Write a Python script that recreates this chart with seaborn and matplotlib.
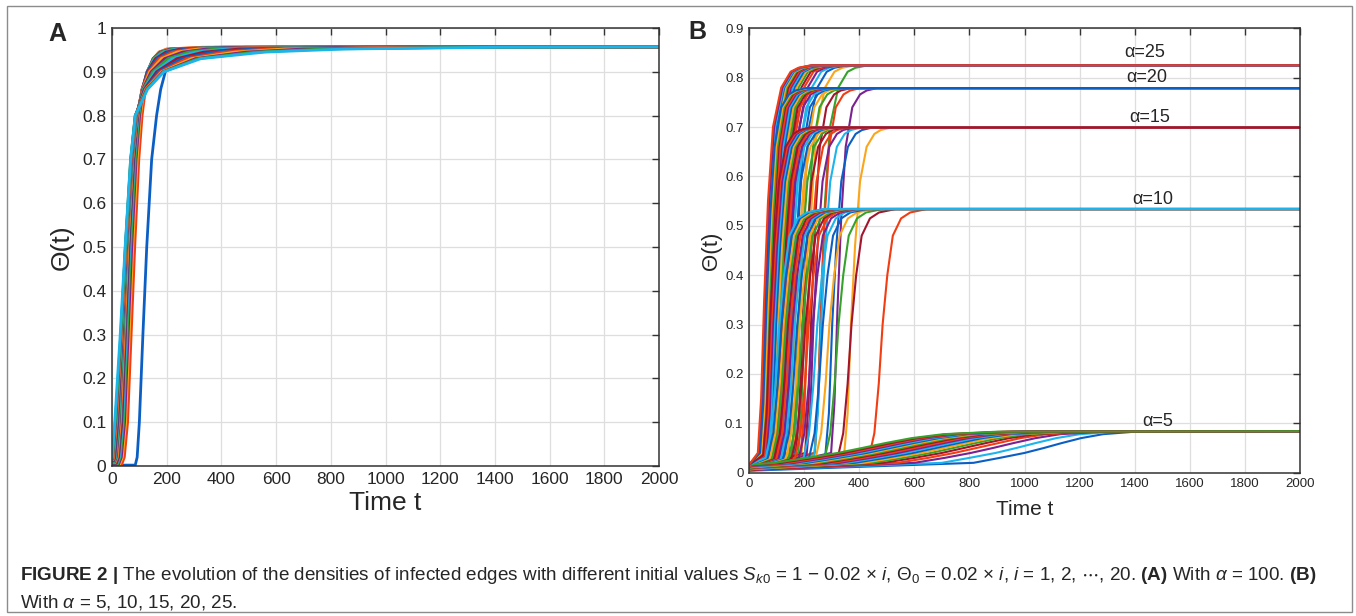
import numpy as np
import pandas as pd
import matplotlib
matplotlib.use("Agg")
import matplotlib.pyplot as plt
from matplotlib import font_manager
from matplotlib.patches import Rectangle
import seaborn as sns

# ---------------- data ----------------
# a curve = (0, start) -> (hold, start) -> (time at each level) -> (2000, plateau)

# panel A, alpha = 100, i = 1..20
levels_a = [0.02, 0.1, 0.3, 0.5, 0.7, 0.8, 0.86, 0.9, 0.93, 0.945, 0.952, 0.956]
plateau_a = 0.957
start_a = [0.002, 0.003, 0.004, 0.004, 0.005, 0.006, 0.006, 0.007, 0.008, 0.008,
           0.009, 0.010, 0.011, 0.012, 0.013, 0.014, 0.015, 0.016, 0.017, 0.018]
hold_a = [85, 35, 28, 24, 21, 18, 16, 14, 12, 10, 9, 8, 7, 6, 5, 4, 3, 2, 1, 0]
times_a = [
    [92, 100, 113, 127, 145, 163, 178, 195, 215, 240, 275, 400],
    [45, 57, 70, 83, 98, 110, 122, 135, 152, 172, 200, 330],
    [38, 50, 63, 76, 92, 104, 117, 131, 150, 172, 205, 350],
    [34, 46, 59, 72, 88, 101, 114, 129, 150, 175, 212, 380],
    [30, 42, 55, 68, 85, 98, 112, 128, 152, 180, 222, 410],
    [27, 39, 52, 65, 82, 96, 111, 128, 155, 188, 235, 450],
    [24, 36, 49, 62, 80, 94, 110, 129, 159, 197, 250, 490],
    [22, 33, 47, 60, 78, 93, 110, 131, 165, 208, 268, 540],
    [20, 31, 45, 58, 76, 92, 110, 134, 172, 222, 290, 590],
    [18, 29, 43, 57, 75, 91, 111, 138, 181, 238, 315, 650],
    [16, 27, 41, 55, 74, 90, 112, 143, 192, 258, 345, 710],
    [14, 25, 40, 54, 73, 89, 114, 149, 205, 280, 380, 780],
    [12, 23, 38, 53, 72, 88, 116, 156, 220, 305, 420, 850],
    [10, 21, 37, 52, 71, 87, 118, 163, 237, 335, 465, 930],
    [8, 19, 36, 51, 70, 87, 120, 170, 255, 370, 515, 1010],
    [6, 17, 35, 50, 70, 86, 122, 177, 273, 410, 570, 1090],
    [4, 15, 34, 50, 69, 86, 124, 182, 290, 450, 630, 1170],
    [3, 14, 33, 49, 69, 85, 126, 186, 305, 490, 700, 1250],
    [2, 12, 32, 49, 68, 85, 128, 188, 315, 525, 775, 1330],
    [1, 10, 30, 48, 68, 85, 130, 190, 325, 560, 850, 1400],
]

# panel B, alpha = 5, 10, 15, 20, 25, i = 1..20
alphas_b = [5, 10, 15, 20, 25]
plateaus_b = [0.084, 0.534, 0.699, 0.779, 0.825]
start_b = [0.004, 0.005, 0.005, 0.006, 0.006, 0.007, 0.007, 0.008, 0.008, 0.009,
           0.009, 0.010, 0.010, 0.011, 0.012, 0.012, 0.013, 0.014, 0.015, 0.016]

levels_b5 = [0.02, 0.03, 0.04, 0.05, 0.06, 0.07, 0.078, 0.083]
times_b5 = [
    [815, 910, 1000, 1070, 1135, 1205, 1285, 1400],
    [700, 800, 895, 970, 1040, 1115, 1200, 1330],
    [600, 710, 805, 885, 960, 1040, 1130, 1280],
    [540, 650, 745, 825, 905, 985, 1080, 1240],
    [490, 600, 700, 780, 860, 945, 1040, 1210],
    [450, 560, 660, 742, 822, 908, 1005, 1180],
    [415, 525, 625, 708, 790, 876, 975, 1155],
    [385, 495, 595, 678, 760, 847, 948, 1130],
    [355, 465, 565, 650, 733, 820, 922, 1110],
    [330, 440, 540, 625, 708, 795, 898, 1090],
    [305, 415, 515, 600, 684, 772, 876, 1070],
    [280, 390, 490, 576, 660, 750, 855, 1050],
    [255, 367, 468, 554, 638, 728, 834, 1030],
    [232, 345, 447, 532, 617, 708, 815, 1010],
    [210, 323, 427, 512, 597, 688, 796, 990],
    [188, 302, 405, 491, 576, 668, 777, 970],
    [165, 280, 385, 471, 556, 648, 758, 955],
    [142, 258, 365, 451, 536, 628, 740, 940],
    [118, 235, 345, 431, 516, 609, 722, 920],
    [95, 212, 322, 410, 495, 590, 705, 900],
]

levels_b10 = [0.03, 0.08, 0.18, 0.30, 0.40, 0.48, 0.515, 0.527, 0.534]
times_b10 = [
    [435, 455, 471, 485, 502, 522, 552, 585, 645],
    [322, 342, 358, 372, 389, 409, 439, 472, 532],
    [275, 295, 311, 325, 342, 362, 392, 425, 485],
    [242, 262, 278, 292, 309, 329, 359, 392, 452],
    [218, 238, 254, 268, 285, 305, 335, 368, 428],
    [198, 218, 234, 248, 265, 285, 315, 348, 408],
    [181, 201, 217, 231, 248, 268, 298, 331, 391],
    [167, 187, 203, 217, 234, 254, 284, 317, 377],
    [155, 175, 191, 205, 222, 242, 272, 305, 365],
    [144, 164, 180, 194, 211, 231, 261, 294, 354],
    [134, 154, 170, 184, 201, 221, 251, 284, 344],
    [125, 145, 161, 175, 192, 212, 242, 275, 335],
    [116, 136, 152, 166, 183, 203, 233, 266, 326],
    [108, 128, 144, 158, 175, 195, 225, 258, 318],
    [100, 120, 136, 150, 167, 187, 217, 250, 310],
    [92, 112, 128, 142, 159, 179, 209, 242, 302],
    [84, 104, 120, 134, 151, 171, 201, 234, 294],
    [76, 96, 112, 126, 143, 163, 193, 226, 286],
    [68, 88, 104, 118, 135, 155, 185, 218, 278],
    [60, 80, 96, 110, 127, 147, 177, 210, 270],
]

levels_b15 = [0.035, 0.12, 0.30, 0.46, 0.59, 0.66, 0.686, 0.694, 0.699]
times_b15 = [
    [345, 358, 370, 385, 403, 427, 455, 478, 515],
    [277, 290, 302, 317, 335, 359, 387, 410, 447],
    [237, 250, 262, 277, 295, 319, 347, 370, 407],
    [209, 222, 234, 249, 267, 291, 319, 342, 379],
    [187, 200, 212, 227, 245, 269, 297, 320, 357],
    [169, 182, 194, 209, 227, 251, 279, 302, 339],
    [154, 167, 179, 194, 212, 236, 264, 287, 324],
    [141, 154, 166, 181, 199, 223, 251, 274, 311],
    [130, 143, 155, 170, 188, 212, 240, 263, 300],
    [119, 132, 144, 159, 177, 201, 229, 252, 289],
    [110, 123, 135, 150, 168, 192, 220, 243, 280],
    [102, 115, 127, 142, 160, 184, 212, 235, 272],
    [94, 107, 119, 134, 152, 176, 204, 227, 264],
    [86, 99, 111, 126, 144, 168, 196, 219, 256],
    [80, 93, 105, 120, 138, 162, 190, 213, 250],
    [73, 86, 98, 113, 131, 155, 183, 206, 243],
    [67, 80, 92, 107, 125, 149, 177, 200, 237],
    [62, 75, 87, 102, 120, 144, 172, 195, 232],
    [56, 69, 81, 96, 114, 138, 166, 189, 226],
    [51, 64, 76, 91, 109, 133, 161, 184, 221],
]

levels_b20 = [0.04, 0.14, 0.33, 0.52, 0.66, 0.74, 0.766, 0.774, 0.779]
times_b20 = [
    [298, 310, 321, 335, 351, 375, 403, 427, 465],
    [238, 250, 261, 275, 291, 315, 343, 367, 405],
    [204, 216, 227, 241, 257, 281, 309, 333, 371],
    [179, 191, 202, 216, 232, 256, 284, 308, 346],
    [160, 172, 183, 197, 213, 237, 265, 289, 327],
    [144, 156, 167, 181, 197, 221, 249, 273, 311],
    [131, 143, 154, 168, 184, 208, 236, 260, 298],
    [119, 131, 142, 156, 172, 196, 224, 248, 286],
    [109, 121, 132, 146, 162, 186, 214, 238, 276],
    [100, 112, 123, 137, 153, 177, 205, 229, 267],
    [92, 104, 115, 129, 145, 169, 197, 221, 259],
    [84, 96, 107, 121, 137, 161, 189, 213, 251],
    [77, 89, 100, 114, 130, 154, 182, 206, 244],
    [71, 83, 94, 108, 124, 148, 176, 200, 238],
    [65, 77, 88, 102, 118, 142, 170, 194, 232],
    [60, 72, 83, 97, 113, 137, 165, 189, 227],
    [54, 66, 77, 91, 107, 131, 159, 183, 221],
    [50, 62, 73, 87, 103, 127, 155, 179, 217],
    [45, 57, 68, 82, 98, 122, 150, 174, 212],
    [40, 52, 63, 77, 93, 117, 145, 169, 207],
]

levels_b25 = [0.04, 0.15, 0.35, 0.55, 0.70, 0.78, 0.812, 0.82, 0.825]
times_b25 = [
    [239, 251, 262, 276, 294, 324, 358, 386, 431],
    [191, 203, 214, 228, 246, 276, 310, 338, 383],
    [163, 175, 186, 200, 218, 248, 282, 310, 355],
    [143, 155, 166, 180, 198, 228, 262, 290, 335],
    [128, 140, 151, 165, 183, 213, 247, 275, 320],
    [115, 127, 138, 152, 170, 200, 234, 262, 307],
    [105, 117, 128, 142, 160, 190, 224, 252, 297],
    [95, 107, 118, 132, 150, 180, 214, 242, 287],
    [87, 99, 110, 124, 142, 172, 206, 234, 279],
    [80, 92, 103, 117, 135, 165, 199, 227, 272],
    [73, 85, 96, 110, 128, 158, 192, 220, 265],
    [67, 79, 90, 104, 122, 152, 186, 214, 259],
    [62, 74, 85, 99, 117, 147, 181, 209, 254],
    [57, 69, 80, 94, 112, 142, 176, 204, 249],
    [52, 64, 75, 89, 107, 137, 171, 199, 244],
    [48, 60, 71, 85, 103, 133, 167, 195, 240],
    [43, 55, 66, 80, 98, 128, 162, 190, 235],
    [40, 52, 63, 77, 95, 125, 159, 187, 232],
    [36, 48, 59, 73, 91, 121, 155, 183, 228],
    [32, 44, 55, 69, 87, 117, 151, 179, 224],
]

levels_b = [levels_b5, levels_b10, levels_b15, levels_b20, levels_b25]
times_b = [times_b5, times_b10, times_b15, times_b20, times_b25]

# matlab default line colours (a bit more saturated, like the print)
matlab = ["#0b5fc4", "#f23c12", "#fba51a", "#7b2191", "#36a22b", "#1cb4ec", "#a3152c"]

# ---------------- style ----------------
sns.set_style("white")
names = {f.name for f in font_manager.fontManager.ttflist}
narrow = "Liberation Sans Narrow" if "Liberation Sans Narrow" in names else "Liberation Sans"
plt.rcParams["font.family"] = ["Liberation Sans", "DejaVu Sans"]
plt.rcParams["mathtext.fontset"] = "custom"
plt.rcParams["mathtext.rm"] = narrow
plt.rcParams["mathtext.it"] = narrow + ":italic"
plt.rcParams["mathtext.bf"] = narrow + ":bold"


def curve_rows(start, hold, levels, times, plateau, cid):
    pts = [(0, start), (hold, start)] + list(zip(times, levels)) + [(2000, plateau)]
    return [(cid, t, v) for t, v in pts]


# panel A table
rows, ids_a, pal_a = [], [], {}
for i in range(20):
    cid = f"a{i:02d}"
    ids_a.append(cid)
    pal_a[cid] = matlab[i % 7]
    rows += curve_rows(start_a[i], hold_a[i], levels_a, times_a[i], plateau_a, cid)
dfa = pd.DataFrame(rows, columns=["curve", "t", "theta"])

# panel B table: matlab loop order is i outer, alpha inner
rows, pal_b = [], {}
for g in range(5):
    for i in range(20):
        n = i * 5 + g
        cid = f"b{n:03d}"
        pal_b[cid] = matlab[n % 7]
        rows += curve_rows(start_b[i], 0, levels_b[g], times_b[g][i], plateaus_b[g], cid)
dfb = pd.DataFrame(rows, columns=["curve", "t", "theta"])
ids_b = sorted(pal_b)

W, H = 1356, 616
fig = plt.figure(figsize=(W / 100, H / 100), dpi=100)
axa = fig.add_axes([112 / W, 1 - 466 / H, 547 / W, 438 / H])
axb = fig.add_axes([749 / W, 1 - 472.7 / H, 551 / W, 444.4 / H])

sns.lineplot(data=dfa, x="t", y="theta", hue="curve", hue_order=ids_a, palette=pal_a,
             estimator=None, sort=False, legend=False, linewidth=2.0, ax=axa)
sns.lineplot(data=dfb, x="t", y="theta", hue="curve", hue_order=ids_b, palette=pal_b,
             estimator=None, sort=False, legend=False, linewidth=1.5, ax=axb)


def style(ax, ymax, fs):
    yt = np.round(np.arange(0, ymax + 0.001, 0.1), 1)
    xt = np.arange(0, 2001, 200)
    ax.set_xlim(0, 2000)
    ax.set_ylim(0, ymax)
    ax.set_xticks(xt)
    ax.set_xticklabels([f"{v:g}" for v in xt])
    ax.set_yticks(yt)
    ax.set_yticklabels([f"{v:g}" for v in yt])
    ax.grid(True, color="#dedede", linewidth=0.9)
    ax.set_axisbelow(True)
    ax.tick_params(direction="in", top=True, right=True, length=5, width=1,
                   labelsize=fs, color="#333333", pad=4)
    for sp in ax.spines.values():
        sp.set_color("#333333")
        sp.set_linewidth(1.1)


style(axa, 1.0, 12.5)
style(axb, 0.9, 9.5)
axa.set_xlabel("Time t", fontsize=19, labelpad=3)
axa.set_ylabel("Θ(t)", fontsize=19, labelpad=6)
axb.set_xlabel("Time t", fontsize=15, labelpad=7)
axb.set_ylabel("Θ(t)", fontsize=16, labelpad=2)

for lab, x, y in zip(["α=5", "α=10", "α=15", "α=20", "α=25"],
                     [1485, 1464, 1453, 1445, 1438],
                     [0.104, 0.554, 0.72, 0.80, 0.852]):
    axb.text(x, y, lab, fontsize=13, ha="center", va="center")

fig.text(57 / W, 1 - 34 / H, "A", fontsize=18, fontweight="bold", ha="center", va="center")
fig.text(697 / W, 1 - 32 / H, "B", fontsize=18, fontweight="bold", ha="center", va="center")

cap1 = (r"$\mathbf{FIGURE\ 2\ |}$ The evolution of the densities of infected edges with different initial values "
        r"$S_{k0}$ = 1 − 0.02 × $i$, $\Theta_0$ = 0.02 × $i$, $i$ = 1, 2, $\cdots$, 20. "
        r"$\mathbf{(A)}$ With $\alpha$ = 100. $\mathbf{(B)}$")
cap2 = r"With $\alpha$ = 5, 10, 15, 20, 25."
fig.text(20 / W, 1 - 576 / H, cap1, fontsize=13.6, family=[narrow, "DejaVu Sans"], va="center")
fig.text(20 / W, 1 - 602 / H, cap2, fontsize=13.6, family=[narrow, "DejaVu Sans"], va="center")

fig.add_artist(Rectangle((7 / W, 1 - 612 / H), 1345 / W, 606 / H, transform=fig.transFigure,
                         fill=False, edgecolor="#8c8c8c", linewidth=1))

fig.savefig("out.png", dpi=100)
